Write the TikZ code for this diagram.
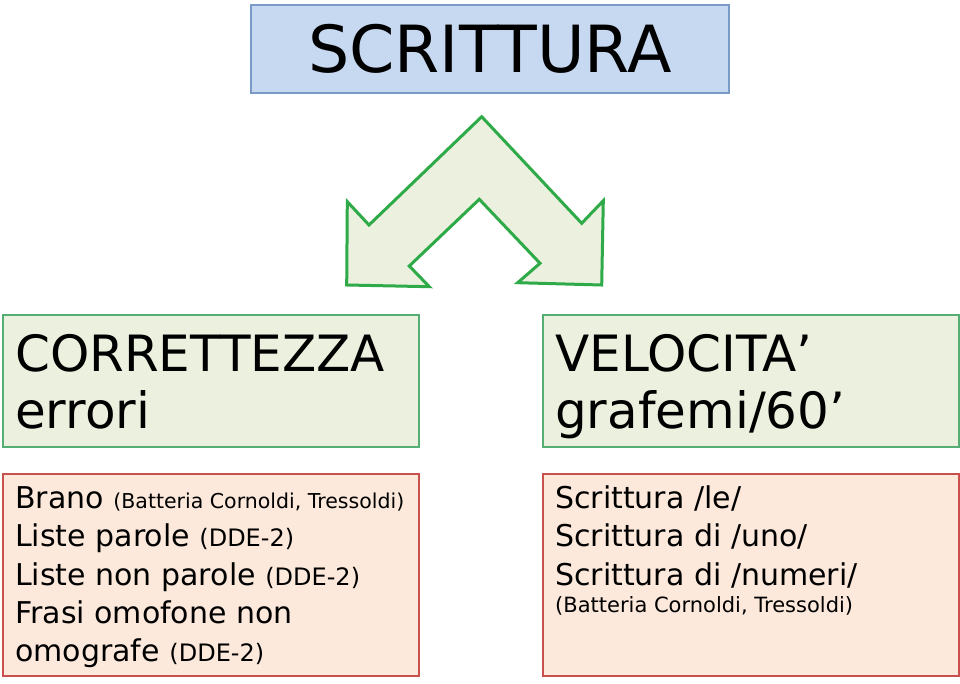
\documentclass[tikz,border=0pt]{standalone}
\usepackage{fontspec}
\setmainfont{DejaVu Sans}
\definecolor{topfill}{HTML}{C6D9F1}
\definecolor{topline}{HTML}{7A9BC9}
\definecolor{grnfill}{HTML}{EBF1DE}
\definecolor{grnline}{HTML}{55AE74}
\definecolor{arrline}{HTML}{2EAA48}
\definecolor{redfill}{HTML}{FCE9DB}
\definecolor{redline}{HTML}{C9504D}
\newcommand{\smallpar}[1]{{\fontsize{20.5}{22}\selectfont #1}}
\newcommand{\ddepar}[1]{{\fontsize{24}{26}\selectfont #1}}
\tikzset{
  topbox/.style={draw=topline, fill=topfill, line width=1.2pt, minimum width=478pt, minimum height=88pt, inner sep=0pt},
  grnbox/.style={draw=grnline, fill=grnfill, line width=1.2pt, minimum width=416pt, minimum height=132pt, inner sep=0pt},
  redbox/.style={draw=redline, fill=redfill, line width=1.2pt, minimum width=416pt, minimum height=202pt, inner sep=0pt},
  head/.style={anchor=base west, inner sep=0pt, font=\fontsize{50}{60}\selectfont},
  item/.style={anchor=base west, inner sep=0pt, font=\fontsize{30}{32}\selectfont},
  small/.style={anchor=base west, inner sep=0pt, font=\fontsize{21}{24}\selectfont},
}
\begin{document}
\begin{tikzpicture}[x=1pt,y=-1pt]
\useasboundingbox (0,0) rectangle (960,684);
% title
\node[topbox, font=\fontsize{65}{70}\selectfont] (title) at (490,49) {SCRITTURA};
% double arrow
\draw[draw=arrline, fill=grnfill, line width=3pt, line join=miter]
  (481.7,116.7) -- (369,225) -- (347.3,201.7) -- (346.7,285) -- (429.3,286.7)
  -- (409.3,266) -- (479.3,199.3) -- (540,263.3) -- (517.7,282.7)
  -- (601.7,285) -- (603.3,200.7) -- (581.7,223.3) -- cycle;
% green boxes
\node[grnbox] (lg) at (211,381) {};
\node[grnbox] (rg) at (751,381) {};
\node[head] (lg1) at (15,371) {CORRETTEZZA};
\node[head] (lg2) at (15,428) {errori};
\node[head] (rg1) at (555,371) {VELOCITA’};
\node[head] (rg2) at (555,428) {grafemi/60’};
% red boxes
\node[redbox] (lr) at (211,575) {};
\node[redbox] (rr) at (751,575) {};
\node[item] (l1) at (15,508) {Brano \smallpar{(Batteria Cornoldi, Tressoldi)}};
\node[item] (l2) at (15,546.5) {Liste parole \ddepar{(DDE-2)}};
\node[item] (l3) at (15,585) {Liste non parole \ddepar{(DDE-2)}};
\node[item] (l4) at (15,623) {Frasi omofone non};
\node[item] (l5) at (15,661) {omografe \ddepar{(DDE-2)}};
\node[item] (r1) at (555,508) {Scrittura /le/};
\node[item] (r2) at (555,546.5) {Scrittura di /uno/};
\node[item] (r3) at (555,585) {Scrittura di /numeri/};
\node[small] (r4) at (555,612) {(Batteria Cornoldi, Tressoldi)};
\end{tikzpicture}
\end{document}
